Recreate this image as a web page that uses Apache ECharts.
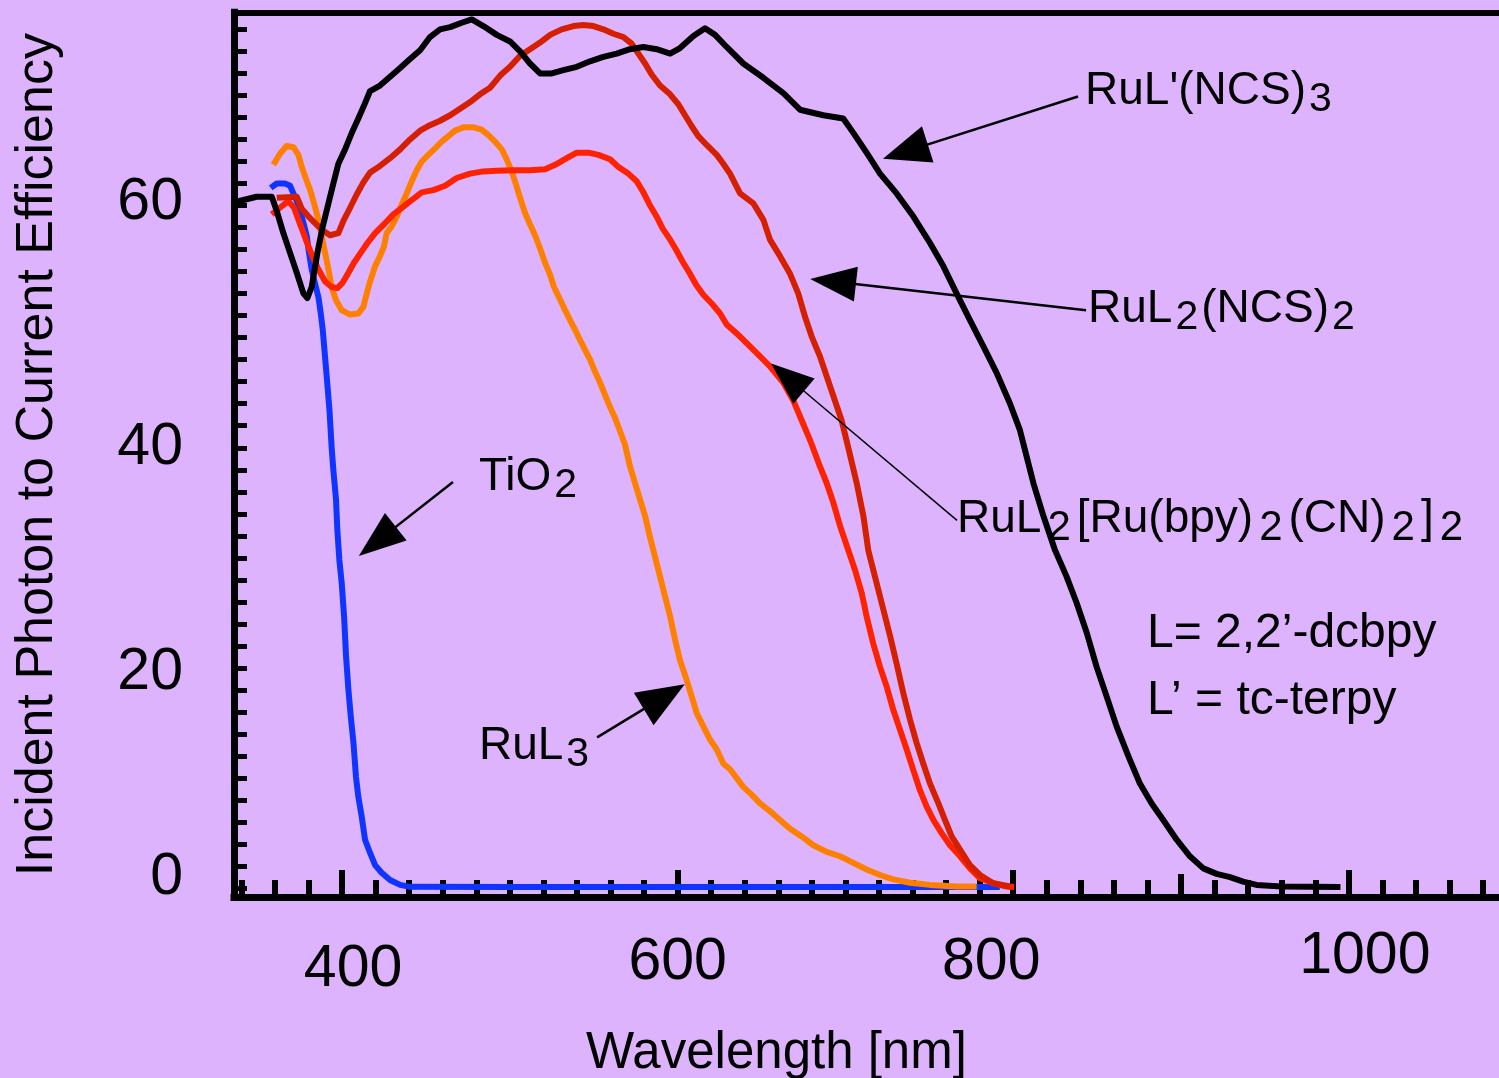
<!DOCTYPE html>
<html>
<head>
<meta charset="utf-8">
<script src="https://cdn.jsdelivr.net/npm/echarts/dist/echarts.min.js"></script>
<style>
html,body{margin:0;padding:0;background:#dcb3fc;}
#chart{width:1499px;height:1078px;}
</style>
</head>
<body>
<div id="chart"></div>
<script>
const FONT = "'Liberation Sans', Arial, Helvetica, sans-serif";

// ---- data: [wavelength nm, IPCE %] ----
const tio2 = [[357.5,63.6],[361.1,64.0],[366.0,64.0],[369.0,63.8],[371.0,63.1],[373.0,62.4],[375.0,61.5],[377.0,60.4],[379.0,59.2],[380.3,57.7],[381.9,56.2],[383.9,54.9],[385.9,53.7],[387.3,52.2],[388.5,50.7],[389.5,48.9],[390.5,47.1],[391.5,45.3],[392.5,43.4],[393.2,41.6],[393.8,40.0],[394.8,38.0],[396.4,35.3],[397.2,32.5],[398.4,29.8],[399.8,27.7],[401.2,24.7],[402.4,21.0],[403.8,18.0],[405.2,15.6],[406.8,13.2],[408.3,10.1],[409.7,8.3],[411.7,6.5],[413.7,4.4],[416.7,3.2],[419.7,2.1],[423.6,1.4],[428.6,0.75],[434.6,0.3],[440.5,0.12],[500,0.1],[600,0.1],[700,0.1],[792,0.1]];

const ruL3 = [[359.1,65.7],[363.0,66.7],[367.0,67.4],[371.0,67.3],[374.0,66.6],[376.0,65.5],[378.3,64.5],[381.0,63.4],[383.3,62.2],[385.9,60.7],[387.9,59.2],[389.9,57.7],[391.9,56.2],[393.8,54.6],[396.4,53.4],[399.8,52.5],[404.8,52.1],[409.7,52.2],[412.7,52.8],[414.7,54.0],[416.7,55.1],[419.7,56.5],[422.6,57.4],[425.0,58.3],[426.6,59.5],[429.6,60.1],[432.6,61.0],[435.6,62.1],[438.5,63.1],[441.5,64.2],[444.5,65.2],[447.5,66.0],[451.4,66.6],[455.4,67.2],[459.4,67.8],[463.4,68.3],[467.3,68.8],[472.3,69.1],[478.3,69.1],[483.2,68.9],[487.2,68.4],[491.2,67.8],[495.2,67.1],[498.1,66.2],[501.1,65.1],[503.7,63.9],[506.1,62.7],[509.1,61.3],[512.0,60.3],[515.0,59.3],[518.0,58.1],[521.0,56.8],[524.0,55.7],[526.3,54.6],[529.5,53.6],[532.9,52.5],[535.9,51.6],[538.9,50.7],[541.8,49.8],[544.8,48.9],[547.8,48.0],[550.8,46.9],[553.8,45.9],[556.7,44.8],[559.7,43.7],[562.7,42.7],[565.7,41.5],[568.6,40.3],[571.6,38.3],[574.6,36.8],[577.6,35.3],[580.6,33.8],[583.5,31.9],[586.5,30.1],[589.5,28.3],[592.5,26.5],[595.5,24.7],[598.4,22.6],[601.4,20.7],[605.4,18.9],[608.4,17.4],[611.4,15.9],[615.3,14.7],[619.3,13.5],[623.3,12.6],[627.3,11.3],[631.2,10.8],[635.2,10.0],[639.1,9.2],[644.1,8.5],[649.1,7.7],[655.0,7.0],[661.0,6.2],[667.0,5.4],[673.9,4.7],[680.9,3.9],[688.8,3.3],[696.8,2.9],[704.7,2.3],[712.6,1.7],[720.6,1.2],[728.5,0.8],[738.5,0.5],[750.4,0.3],[766.3,0.15],[778.2,0.15]];

const ruBpyCN = [[358.1,61.2],[363.0,61.8],[368.0,62.4],[371.4,61.8],[374.0,60.7],[377.0,59.5],[379.9,58.3],[382.9,57.2],[385.9,56.2],[389.9,55.1],[393.8,54.6],[397.2,54.5],[400.4,55.0],[403.8,55.9],[407.1,56.8],[411.1,57.7],[415.1,58.6],[419.7,59.5],[425.0,60.3],[430.6,61.2],[436.6,61.9],[441.5,62.5],[447.5,63.2],[454.4,63.4],[461.4,63.8],[468.3,64.5],[476.3,64.9],[484.2,65.1],[492.2,65.15],[502.1,65.2],[512.0,65.2],[521.0,65.3],[527.0,65.7],[533.9,66.3],[539.9,66.8],[546.8,66.8],[552.8,66.6],[559.7,66.2],[564.7,65.5],[570.6,64.9],[575.6,64.2],[579.6,63.2],[583.2,62.1],[587.1,61.1],[591.1,59.9],[595.1,59.0],[599.0,58.0],[603.0,56.9],[607.0,55.9],[611.0,54.8],[615.3,53.9],[620.3,53.1],[625.3,52.2],[629.2,51.2],[637.2,50.1],[643.1,49.2],[649.1,48.3],[655.0,47.4],[663.0,45.9],[668.9,44.3],[673.9,42.5],[678.9,40.7],[684.8,38.3],[688.8,36.8],[692.8,35.0],[696.8,32.9],[701.7,30.7],[705.7,28.9],[709.7,26.8],[712.6,24.7],[716.6,22.2],[720.6,20.1],[724.6,18.3],[728.5,16.2],[732.5,14.4],[736.5,12.6],[740.5,10.7],[744.4,8.9],[748.4,7.4],[752.4,6.2],[757.3,5.0],[762.3,3.9],[768.3,2.9],[774.2,1.8],[780.2,0.9],[788.1,0.45],[796.1,0.15],[800.5,0.1]];

const ruNCS2 = [[361.1,62.7],[373.0,62.8],[376.0,61.7],[380.0,61.0],[383.9,60.4],[387.9,59.8],[392.8,59.3],[397.8,59.5],[400.8,60.6],[404.8,61.8],[408.7,63.0],[412.7,64.1],[416.7,65.0],[422.6,65.6],[428.6,66.3],[434.6,67.1],[440.5,68.0],[446.5,68.8],[452.4,69.3],[458.4,69.7],[464.4,70.2],[470.3,70.8],[476.3,71.4],[482.2,72.1],[488.2,72.7],[494.2,73.8],[500.1,74.6],[506.1,75.6],[512.0,76.2],[518.0,76.8],[524.0,77.5],[530.9,78.0],[537.9,78.3],[543.8,78.4],[549.8,78.3],[555.7,78.0],[561.7,77.6],[567.7,77.3],[572.6,76.7],[576.6,75.8],[580.6,74.9],[584.5,73.9],[589.5,72.9],[595.5,72.1],[600.4,71.2],[604.4,70.2],[608.4,69.2],[612.3,68.3],[617.3,67.5],[623.3,66.6],[627.2,65.8],[631.2,64.9],[637.2,63.1],[645.1,62.2],[651.1,60.7],[655.0,58.9],[661.0,57.4],[667.0,55.8],[671.9,54.0],[675.9,51.9],[679.9,50.1],[684.8,48.3],[688.8,46.5],[692.8,44.7],[697.7,42.5],[701.7,40.0],[706.7,36.8],[710.7,33.8],[713.6,30.7],[718.6,27.7],[722.6,25.3],[726.6,22.9],[730.5,20.4],[734.5,17.7],[738.5,15.3],[742.4,13.2],[746.4,11.3],[750.4,9.5],[755.4,7.7],[759.3,6.2],[763.3,4.7],[768.3,3.5],[774.2,2.1],[780.2,1.2],[788.1,0.45],[798.1,0.15]];

const ruNCS3 = [[335.8,62.3],[349.1,62.8],[358.1,62.8],[361.1,61.5],[365.0,59.5],[369.0,57.7],[373.0,55.9],[377.0,54.0],[379.3,53.6],[381.9,54.6],[385.3,57.7],[388.5,60.1],[391.9,62.2],[394.8,64.0],[397.8,65.8],[401.8,67.1],[405.8,68.6],[409.7,69.9],[413.7,71.3],[416.7,72.4],[422.6,72.9],[428.6,73.7],[434.6,74.5],[440.5,75.3],[446.5,76.1],[452.4,77.3],[458.4,78.0],[464.4,78.2],[471.3,78.6],[477.3,78.9],[484.2,78.3],[492.2,77.5],[500.1,76.9],[506.1,76.0],[512.0,74.9],[518.0,74.0],[525.0,74.0],[531.9,74.3],[539.9,74.6],[547.8,75.1],[555.7,75.5],[563.7,75.8],[571.6,76.2],[579.6,76.4],[587.5,76.2],[595.5,75.8],[601.4,76.3],[609.4,77.4],[616.3,78.1],[622.3,77.5],[629.2,76.4],[639.1,74.9],[651.1,73.6],[663.0,72.2],[672.9,70.7],[686.8,70.2],[698.7,69.9],[704.7,68.6],[712.6,66.8],[720.6,64.9],[730.5,63.1],[740.5,61.0],[750.4,58.6],[758.3,56.5],[766.3,54.0],[774.2,51.6],[782.2,49.2],[790.1,46.8],[798.1,44.0],[804.0,41.6],[807.0,39.8],[812.0,36.8],[818.0,33.8],[824.9,30.7],[831.8,28.3],[837.8,25.9],[843.8,23.2],[849.7,20.1],[855.7,17.4],[861.6,14.7],[868.6,12.0],[875.5,9.5],[882.5,7.7],[889.4,6.2],[897.4,4.4],[905.3,2.9],[913.3,1.8],[921.2,1.3],[929.2,1.0],[937,0.6],[945,0.3],[960,0.15],[995,0.1]];

// ---- axis ticks / labels ----
const xLabels = [400, 600, 800, 1000];
const xMajorTicks = [400, 600, 800, 1000];
const xMidTicks = [900];
const xMinorTicks = [340,360,380,420,440,460,480,500,520,540,560,580,620,640,660,680,700,720,740,760,780,820,840,860,880,920,940,960,980,1020,1040,1060,1080];
const yLabels = [0, 20, 40, 60];
const yTicks = [0,2,4,6,8,10,12,14,16,18,20,22,24,26,28,30,32,34,36,38,40,42,44,46,48,50,52,54,56,58,60,62,64,66,68,70,72,74,76,78];

// ---- annotations (data coordinates) ----
const labelTexts = [
  "{m|RuL'(NCS)}{s|3}",
  "{m|RuL}{s|2}{m|(NCS)}{s|2}",
  "{m|RuL}{v|2}{m|[Ru(bpy)}{v|2}{m|(CN)}{v|2}{m|]}{v|2}",
  "{m|TiO}{s|2}",
  "{m|RuL}{s|3}",
  "{t|L= 2,2\u2019-dcbpy}",
  "{t|L\u2019 = tc-terpy}"
];
const labelAnchors = [[842.8,72.4],[844.6,52.6],[766.5,33.5],[481.6,37.35],[481.6,12.9],[879.7,23.1],[879.7,17.0]];
const arrowFrom = [[838.6,71.9],[843.4,52.5],[766.5,33.4],[466.1,36.9],[552.0,13.7]];
const arrowHead = [[735.7,66.9],[692.6,55.1],[665.5,46.4],[421.0,31.5],[592.0,17.4]];

const headSizes = [[38,47],[35,46],[33,43],[35,47],[38,48]];
const arrowWidths = [2.5,2.5,1.5,2.5,2.5];

const X_MIN = 335.6, X_MAX = 1089.5, Y_MIN = -0.8, Y_MAX = 79.55;

function txt(size, extra) {
  return Object.assign({fontSize: size, fontFamily: FONT, color: '#000'}, extra || {});
}

const xRich = {
  x400: txt(59, {padding: [13, 0, 0, 22]}),
  x600: txt(59, {padding: [6, 0, 0, 0]}),
  x800: txt(59, {padding: [6, 44, 0, 0]}),
  x1000: txt(59, {padding: [0, 0, 0, 32]})
};
const yRich = {
  y0: txt(59, {padding: [0, 0, 20, 0]}),
  y20: txt(59, {padding: [10, 0, 0, 0]}),
  y40: txt(59),
  y60: txt(59, {padding: [0, 0, 49, 0]})
};
const annRich = {
  m: txt(46, {lineHeight: 50}),
  s: txt(41, {lineHeight: 50, padding: [18, 3, 0, 3]}),
  v: txt(42, {lineHeight: 50, padding: [18, 6, 0, 6]}),
  t: txt(48, {lineHeight: 50})
};

function bottomTickAxis(values, len) {
  return {
    type: 'value', min: X_MIN, max: X_MAX, position: 'bottom', gridIndex: 0,
    axisLine: {show: false, onZero: false},
    axisTick: {show: true, inside: true, length: len, customValues: values, lineStyle: {color: '#000', width: 6}},
    axisLabel: {show: false},
    splitLine: {show: false}
  };
}

const curveDefs = [
  {name: 'TiO2', data: tio2, color: '#1034ff'},
  {name: 'RuL3', data: ruL3, color: '#ff8000'},
  {name: 'RuL2[Ru(bpy)2(CN)2]2', data: ruBpyCN, color: '#ff2200'},
  {name: 'RuL2(NCS)2', data: ruNCS2, color: '#d42000'},
  {name: "RuL'(NCS)3", data: ruNCS3, color: '#000000'}
];

const series = curveDefs.map(function (c) {
  return {
    type: 'line', name: c.name, data: c.data,
    xAxisIndex: 0, yAxisIndex: 0,
    showSymbol: false, symbol: 'none', smooth: false,
    lineStyle: {color: c.color, width: 6, join: 'round'},
    silent: true
  };
});

series.push({
  type: 'scatter', name: 'annotations',
  xAxisIndex: 0, yAxisIndex: 0,
  data: labelAnchors, symbolSize: 0, silent: true, z: 5,
  itemStyle: {opacity: 1, color: '#000'},
  label: {
    show: true, position: 'right', distance: 0, opacity: 1, color: '#000',
    formatter: function (p) { return labelTexts[p.dataIndex]; },
    rich: annRich
  },
  markLine: {
    silent: true, animation: false,
    symbol: ['none', 'triangle'],
    label: {show: false},
    emphasis: {disabled: true},
    data: arrowFrom.map(function (f, i) {
      return [
        {coord: f, lineStyle: {color: '#000', width: arrowWidths[i], type: 'solid', opacity: 1}},
        {coord: arrowHead[i], symbol: 'triangle', symbolSize: headSizes[i]}
      ];
    })
  }
});

const option = {
  backgroundColor: '#dcb3fc',
  animation: false,
  grid: {left: 234, right: 0, top: 12.3, bottom: 181, containLabel: false, outerBoundsMode: 'none'},
  xAxis: [
    {
      type: 'value', min: X_MIN, max: X_MAX, position: 'bottom',
      axisLine: {show: true, onZero: false, lineStyle: {color: '#000', width: 7, cap: 'square'}},
      axisTick: {show: true, inside: true, length: 27, customValues: xMajorTicks, lineStyle: {color: '#000', width: 6}},
      axisLabel: {
        show: true, customValues: xLabels, margin: 30,
        formatter: function (v) { return '{x' + v + '|' + v + '}'; },
        rich: xRich
      },
      splitLine: {show: false},
      name: 'Wavelength [nm]', nameLocation: 'middle', nameGap: 131,
      nameTextStyle: {fontSize: 51, fontFamily: FONT, color: '#000', padding: [0, 180, 0, 0]}
    },
    bottomTickAxis(xMinorTicks, 17),
    bottomTickAxis(xMidTicks, 23),
    {
      type: 'value', min: X_MIN, max: X_MAX, position: 'top',
      axisLine: {show: true, onZero: false, lineStyle: {color: '#000', width: 6, cap: 'square'}},
      axisTick: {show: false}, axisLabel: {show: false}, splitLine: {show: false}
    }
  ],
  yAxis: [
    {
      type: 'value', min: Y_MIN, max: Y_MAX, position: 'left',
      axisLine: {show: true, onZero: false, lineStyle: {color: '#000', width: 7, cap: 'square'}},
      axisTick: {show: true, inside: true, length: 13, customValues: yTicks, lineStyle: {color: '#000', width: 5}},
      axisLabel: {
        show: true, customValues: yLabels, margin: 51,
        formatter: function (v) { return '{y' + v + '|' + v + '}'; },
        rich: yRich
      },
      splitLine: {show: false},
      name: 'Incident Photon to Current Efficiency', nameLocation: 'middle', nameGap: 170,
      nameTextStyle: {fontSize: 52, fontFamily: FONT, color: '#000'}
    }
  ],
  series: series
};

const chart = echarts.init(document.getElementById('chart'), null, {renderer: 'canvas'});
chart.setOption(option);
</script>
</body>
</html>
